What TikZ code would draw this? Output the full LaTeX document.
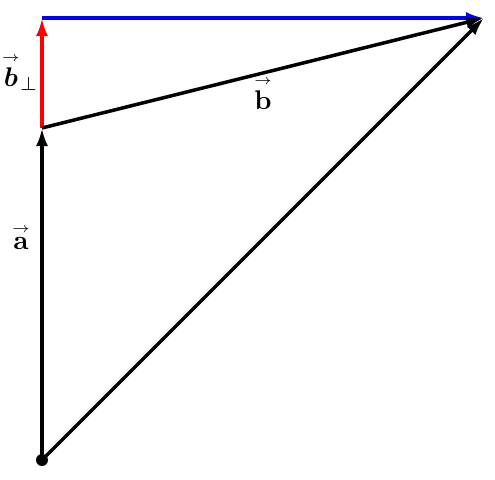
\documentclass[tikz,border=0pt]{standalone}
\usepackage{amsmath,bm}
\usetikzlibrary{arrows.meta}
\newcommand{\arrowover}[1]{\overset{\scriptscriptstyle\rightarrow}{#1}}
\begin{document}
\begin{tikzpicture}[x=1pt,y=-1pt,
  vec/.style={line width=3.5pt,-{Latex[length=18pt,width=12pt]}},
  lbl/.style={scale=2.7,inner sep=0pt}]
\useasboundingbox (0,0) rectangle (495,479);
\coordinate (O) at (42,460);
\coordinate (A) at (42,128);
\coordinate (P) at (42,18);
\coordinate (T) at (484,18);
\fill (O) circle (6);
\draw[vec,blue] (P) -- (T);
\draw[vec,red] (A) -- (P);
\draw[vec] (O) -- (A);
\draw[vec] (A) -- (T);
\draw[vec] (O) -- (T);
\node[lbl] (la) at (21,237) {$\arrowover{\mathbf{a}}$};
\node[lbl] (lb) at (263,93) {$\arrowover{\mathbf{b}}$};
\node[lbl] (lp) at (20,72) {$\arrowover{\bm{b}}_{\perp}$};
\end{tikzpicture}
\end{document}
